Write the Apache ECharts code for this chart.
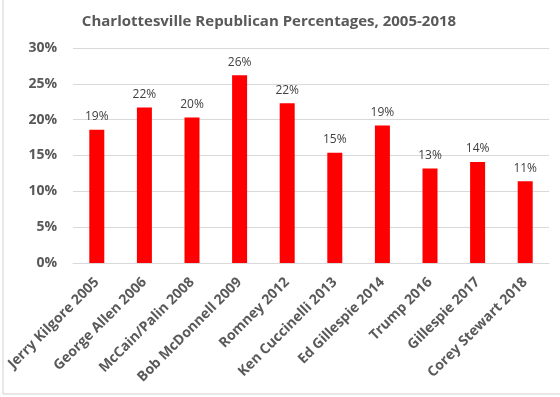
<!DOCTYPE html>
<html>
<head>
<meta charset="utf-8">
<script src="https://cdn.jsdelivr.net/npm/echarts@6/dist/echarts.min.js"></script>
<style>html,body{margin:0;padding:0;background:#fff}#c{width:560px;height:397px}</style>
</head>
<body>
<div id="c"></div>
<script>
var categories = ["Jerry Kilgore 2005","George Allen 2006","McCain/Palin 2008","Bob McDonnell 2009","Romney 2012","Ken Cuccinelli 2013","Ed Gillespie 2014","Trump 2016","Gillespie 2017","Corey Stewart 2018"];
var values = [18.6, 21.7, 20.3, 26.2, 22.3, 15.4, 19.2, 13.2, 14.1, 11.4];
var yTicks = [0, 5, 10, 15, 20, 25, 30];

var chart = echarts.init(document.getElementById('c'), null, {renderer:'canvas'});
var fam = 'Open Sans, Liberation Sans, sans-serif';
chart.setOption({
  animation: false,
  backgroundColor: '#fff',
  title: {
    text: 'Charlottesville Republican Percentages, 2005-2018',
    left: 264, top: 9, textAlign: 'center',
    textStyle: {fontFamily: fam, fontWeight: 'bold', fontSize: 15, color: '#595959'}
  },
  grid: {left: 73, right: 11, top: 48, bottom: 134, containLabel: false},
  xAxis: {
    type: 'category', data: categories,
    axisLine: {show: true, lineStyle: {color: '#d9d9d9', width: 1}},
    axisTick: {show: false},
    axisLabel: {interval: 0, rotate: 45, margin: 17, fontFamily: fam, fontWeight: 'bold', fontSize: 14, color: '#595959'}
  },
  yAxis: {
    type: 'value', min: yTicks[0], max: yTicks[yTicks.length-1], interval: 5,
    axisLine: {show: false}, axisTick: {show: false},
    splitLine: {lineStyle: {color: '#d9d9d9', width: 1}},
    axisLabel: {margin: 16, fontFamily: fam, fontWeight: 'bold', fontSize: 14, color: '#595959',
      formatter: function(v){ return v + '%'; }}
  },
  series: [{
    type: 'bar', data: values, barWidth: 15,
    itemStyle: {color: '#ff0000'},
    label: {show: true, position: 'top', distance: 7, fontFamily: fam, fontSize: 12, color: '#404040',
      formatter: function(p){ return Math.round(p.value) + '%'; }}
  }],
  graphic: [
    {type:'line', shape:{x1:3,y1:0,x2:3,y2:394}, style:{stroke:'#d0d0d0', lineWidth:1}},
    {type:'line', shape:{x1:3,y1:394,x2:560,y2:394}, style:{stroke:'#d0d0d0', lineWidth:1}}
  ]
});
</script>
</body>
</html>
